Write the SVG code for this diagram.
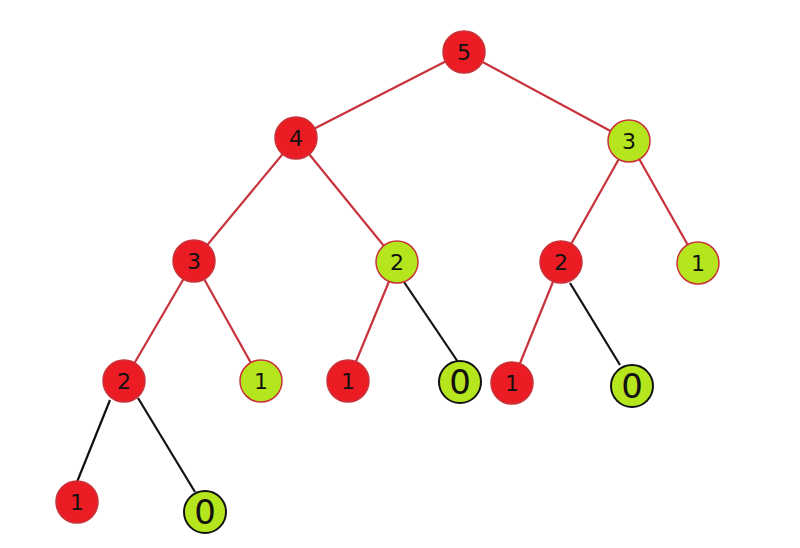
<svg xmlns="http://www.w3.org/2000/svg" width="800" height="548" viewBox="0 0 800 548">
<style>
.r{fill:#ec1c24;stroke:#c8323a;stroke-width:1.5}
.g{fill:#b5e61d;stroke:#c8323a;stroke-width:1.5}
.z{fill:#b5e61d;stroke:#111;stroke-width:2}
.re{stroke:#c8323a;stroke-width:2.2}
.be{stroke:#111;stroke-width:2.2}
text{font-family:"DejaVu Sans",sans-serif;font-size:22px;text-anchor:middle;dominant-baseline:central;fill:#111}
.zt{font-family:"DejaVu Sans",sans-serif;font-size:34px}
</style>
<rect width="800" height="548" fill="#fff"/>
<g id="edges">
<line class="re" x1="464" y1="52" x2="296" y2="138"/>
<line class="re" x1="464" y1="52" x2="629" y2="141"/>
<line class="re" x1="296" y1="138" x2="194" y2="261"/>
<line class="re" x1="296" y1="138" x2="397" y2="262"/>
<line class="re" x1="629" y1="141" x2="561" y2="262"/>
<line class="re" x1="629" y1="141" x2="698" y2="263"/>
<line class="re" x1="194" y1="261" x2="124" y2="381"/>
<line class="re" x1="194" y1="261" x2="261" y2="381"/>
<line class="re" x1="397" y1="262" x2="348" y2="381"/>
<line class="re" x1="561" y1="262" x2="512" y2="383"/>
<line class="be" x1="404" y1="282" x2="458" y2="362"/>
<line class="be" x1="570" y1="283" x2="620" y2="365"/>
<line class="be" x1="110" y1="400" x2="77" y2="482"/>
<line class="be" x1="138" y1="398" x2="195" y2="492"/>
</g>
<g id="n5"><circle class="r" cx="464" cy="52" r="21"/><text x="464" y="52">5</text></g>
<g id="n4"><circle class="r" cx="296" cy="138" r="21"/><text x="296" y="138">4</text></g>
<g id="n3b"><circle class="g" cx="629" cy="141" r="21"/><text x="629" y="141">3</text></g>
<g id="n3a"><circle class="r" cx="194" cy="261" r="21"/><text x="194" y="261">3</text></g>
<g id="n2b"><circle class="g" cx="397" cy="262" r="21"/><text x="397" y="262">2</text></g>
<g id="n2c"><circle class="r" cx="561" cy="262" r="21"/><text x="561" y="262">2</text></g>
<g id="n1d"><circle class="g" cx="698" cy="263" r="21"/><text x="698" y="263">1</text></g>
<g id="n2a"><circle class="r" cx="124" cy="381" r="21"/><text x="124" y="381">2</text></g>
<g id="n1a"><circle class="g" cx="261" cy="381" r="21"/><text x="261" y="381">1</text></g>
<g id="n1b"><circle class="r" cx="348" cy="381" r="21"/><text x="348" y="381">1</text></g>
<g id="n0a"><circle class="z" cx="460" cy="382" r="21"/><text class="zt" x="460" y="382">0</text></g>
<g id="n1c"><circle class="r" cx="512" cy="383" r="21"/><text x="512" y="383">1</text></g>
<g id="n0b"><circle class="z" cx="632" cy="386" r="21"/><text class="zt" x="632" y="386">0</text></g>
<g id="n1e"><circle class="r" cx="77" cy="502" r="21"/><text x="77" y="502">1</text></g>
<g id="n0c"><circle class="z" cx="205" cy="512" r="21"/><text class="zt" x="205" y="512">0</text></g>
</svg>
